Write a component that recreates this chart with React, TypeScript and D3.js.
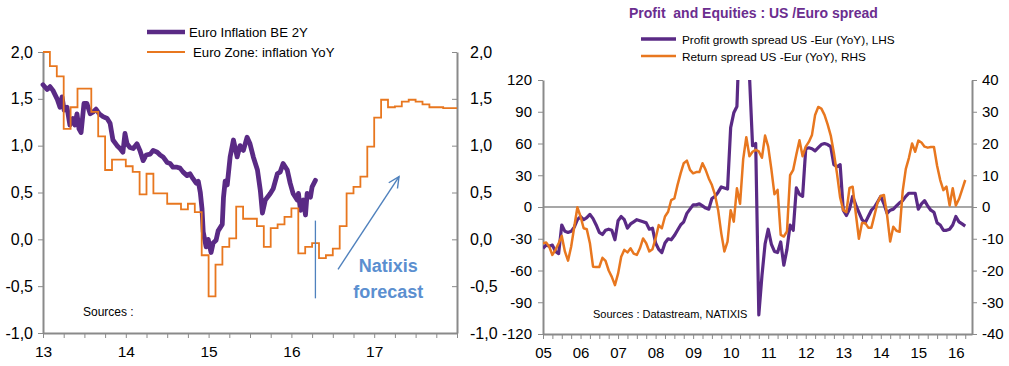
import React, { useEffect, useRef } from "react";
import * as d3 from "d3";

// ---- left panel: euro inflation ----
// breakeven 2Y, sampled roughly every 2 weeks (decimal years)
const beTimes = [
  2013.0, 2013.05, 2013.085, 2013.12, 2013.17, 2013.205, 2013.23, 2013.255, 2013.29, 2013.325,
  2013.36, 2013.385, 2013.41, 2013.435, 2013.46, 2013.495, 2013.53, 2013.57, 2013.605, 2013.64,
  2013.68, 2013.725, 2013.775, 2013.81, 2013.845, 2013.895, 2013.93, 2013.965, 2013.99, 2014.015,
  2014.05, 2014.09, 2014.135, 2014.17, 2014.21, 2014.245, 2014.295, 2014.33, 2014.38, 2014.415,
  2014.45, 2014.5, 2014.535, 2014.57, 2014.62, 2014.655, 2014.69, 2014.74, 2014.775, 2014.81,
  2014.85, 2014.875, 2014.9, 2014.92, 2014.935, 2014.97, 2014.995, 2015.03, 2015.055, 2015.09,
  2015.115, 2015.165, 2015.18, 2015.2, 2015.225, 2015.26, 2015.3, 2015.345, 2015.38, 2015.42,
  2015.465, 2015.5, 2015.54, 2015.59, 2015.625, 2015.65, 2015.685, 2015.745, 2015.78, 2015.83,
  2015.865, 2015.9, 2015.95, 2015.985, 2016.02, 2016.07, 2016.085, 2016.11, 2016.145, 2016.17,
  2016.19, 2016.23, 2016.25, 2016.29,
];
const beValues = [
  1.65, 1.6, 1.63, 1.59, 1.5, 1.41, 1.52, 1.38, 1.41, 1.22,
  1.29, 1.22, 1.34, 1.18, 1.14, 1.45, 1.45, 1.34, 1.36, 1.39,
  1.34, 1.31, 1.29, 1.24, 1.06, 1.0, 0.97, 0.93, 1.13, 1.02,
  0.98, 0.97, 1.02, 0.95, 0.84, 0.9, 0.91, 0.95, 0.93, 0.9,
  0.88, 0.82, 0.81, 0.77, 0.77, 0.76, 0.72, 0.68, 0.7, 0.65,
  0.6, 0.62, 0.5, 0.33, 0.08, -0.08, 0.0, -0.14, -0.04, -0.01,
  0.09, 0.16, 0.45, 0.62, 0.58, 0.88, 1.06, 0.88, 1.0, 0.95,
  1.09, 1.02, 0.88, 0.74, 0.52, 0.28, 0.42, 0.49, 0.54, 0.7,
  0.72, 0.81, 0.74, 0.6, 0.49, 0.42, 0.49, 0.31, 0.42, 0.26,
  0.49, 0.45, 0.56, 0.63,
];
// euro zone HICP yoy, monthly from Jan 2013 (forecast after Apr 2016)
const hicpStart = 2013;
const hicpValues = [
  2.0, 1.85, 1.74, 1.18, 1.41, 1.61, 1.61, 1.36, 1.1, 0.74, 0.85, 0.85,
  0.78, 0.72, 0.48, 0.7, 0.49, 0.49, 0.38, 0.38, 0.32, 0.38, 0.29, -0.17,
  -0.61, -0.27, -0.08, 0.01, 0.35, 0.22, 0.22, 0.14, -0.08, 0.12, 0.16, 0.24,
  0.33, -0.15, -0.08, -0.04, -0.2, -0.17, -0.1, 0.14, 0.49, 0.56, 0.67, 0.99,
  1.3, 1.49, 1.41, 1.42, 1.47, 1.49, 1.47, 1.44, 1.41, 1.41, 1.4, 1.4,
];
const leftTicks = [-1, -0.5, 0, 0.5, 1, 1.5, 2];
const leftYears = [2013, 2018];
const leftYearLabels = ["13", "14", "15", "16", "17"];

// ---- right panel: profit and equities spread ----
const spreadStart = 2005;
const profitSpread = [
  -39, -36, -37, -36, -42, -44, -17, -23, -24, -23, -19, -12,
  -9, -12, -10, -7, -11, -17, -24, -26, -22, -21, -22, -31,
  -13, -9, -12, -20, -16, -14, -12, -13, -14, -15, -21, -20,
  -34, -40, -43, -34, -30, -31, -27, -22, -17, -14, -6, -2,
  2, 2, 3, 1, -1, -2, 8, 10, 14, 19, 18, 17,
  75, 89, 95, 180, 200, 170, 125, 58, 60, -102, -65, -35,
  -21, -35, -42, -43, -33, -55, -40, -17, -22, 18, 12, 10,
  55, 56, 55, 53, 56, 59, 60, 59, 57, 40, 38, 40,
  -3, -8, -2, 10, 2, -5, -12, -15, -9, -3, 0, 5,
  10, 3, -6, -3, -2, 1, 4, 6, 10, 13, 13, 13,
  -2, 3, 6, 1, -3, -5, -15, -17, -22, -22, -21, -17,
  -9, -14, -16, -18,
];
const returnSpread = [
  -11.4, -11.2, -12.5, -15.1, -13.5, -11.4, -9.1, -14, -16.9, -12.5, -6.2, -0.1,
  -3, -6.7, -7, -11.4, -18.8, -18.9, -18.9, -16, -17, -20, -22, -24.6,
  -21, -15.7, -13.5, -14.3, -13, -14.7, -15.1, -13, -9.9, -11.4, -14, -13.3,
  -9.9, -5.7, -6.7, -3, -1.5, 2.2, 2.7, 6.9, 10.6, 13.8, 14.6, 11.7,
  10.6, 11, 11, 13.8, 11.7, 9, 6.9, 3.8, -1, -8.3, -14, -10.9,
  -1, -4.6, 5.9, 1, 15, 22, 16, 17.4, 18, 17.5, 15.5, 22.5,
  19, 12, 4, 5.4, -8.8, -9.3, -7.7, 10, 11.7, 16.5, 21, 16,
  19, 20.5, 22.7, 29, 31.5, 31, 29, 26, 22.5, 17, 10.5, 3,
  -1, -1.6, 6, 6.4, -2, -10, -5, -5, -6.5, -6.5, -2.5, 1.5,
  3.5, 3.8, -2.5, -10.9, -6.2, -7.5, -7.8, 5, 12, 15.5, 20, 17.4,
  20.9, 20.3, 19, 18.7, 18.9, 18.9, 13, 8.5, 5.3, 6.4, 0.5, 5.9,
  0.5, 2.5, 5.5, 8.5,
];
const lhsTicks = [-120, -90, -60, -30, 0, 30, 60, 90, 120];
const rhsTicks = [-40, -30, -20, -10, 0, 10, 20, 30, 40];
const rightYearLabels = ["05", "06", "07", "08", "09", "10", "11", "12", "13", "14", "15", "16"];

const FONT = "'Liberation Sans', Arial, sans-serif";
const PURPLE = "#5a2a85";
const ORANGE = "#e8771f";
const AXIS = "#8a8a8a";
const BLUE = "#4f81bd";

const comma = (d) => d.toFixed(1).replace(".", ",");
const dash = (d) => String(d);

const styleAxis = (size) => (g) => {
  g.attr("font-family", FONT).attr("font-size", size);
  g.select(".domain").attr("stroke", AXIS).attr("stroke-width", 2);
  g.selectAll(".tick line").attr("stroke", AXIS);
  g.selectAll(".tick text").attr("fill", "#000");
};

const App = () => {
  const ref = useRef(null);

  useEffect(() => {
    const svg = d3.select(ref.current);
    svg.selectAll("*").remove();

    // ================= left panel =================
    const x = d3.scaleLinear().domain(leftYears).range([43, 457]);
    const y = d3.scaleLinear().domain([-1, 2]).range([333, 52]);
    const leftYearFmt = (d) => (Number.isInteger(d) ? leftYearLabels[d - 2013] || "" : "");

    svg.append("g").attr("transform", "translate(43,0)")
      .call(d3.axisLeft(y).tickValues(leftTicks).tickSize(5).tickSizeOuter(0).tickPadding(5).tickFormat(comma))
      .call(styleAxis(16));
    svg.append("g").attr("transform", "translate(457,0)")
      .call(d3.axisRight(y).tickValues(leftTicks).tickSizeInner(-5).tickSizeOuter(0).tickPadding(13).tickFormat(comma))
      .call(styleAxis(16));
    svg.append("g").attr("transform", "translate(0,333)")
      .call(d3.axisBottom(x).tickValues(d3.range(2013, 2018.001, 0.25)).tickSize(5).tickSizeOuter(0).tickPadding(8).tickFormat(leftYearFmt))
      .call(styleAxis(15.5));

    const beLine = d3.line()
      .x((d, i) => x(beTimes[i]))
      .y((d) => y(d));
    svg.append("path").datum(beValues)
      .attr("d", beLine)
      .attr("fill", "none").attr("stroke", PURPLE).attr("stroke-width", 4.8)
      .attr("stroke-linejoin", "round").attr("stroke-linecap", "round");

    const hicpLine = d3.line()
      .curve(d3.curveStepAfter)
      .x((d, i) => x(hicpStart + i / 12))
      .y((d) => y(d));
    svg.append("path").datum(hicpValues.concat([hicpValues[hicpValues.length - 1]]))
      .attr("d", hicpLine)
      .attr("fill", "none").attr("stroke", ORANGE).attr("stroke-width", 1.8);

    // legend
    const lg = svg.append("g").attr("font-family", FONT).attr("font-size", 13.2);
    lg.append("line").attr("x1", 147).attr("x2", 185).attr("y1", 32).attr("y2", 32)
      .attr("stroke", PURPLE).attr("stroke-width", 4.5);
    lg.append("text").attr("x", 189).attr("y", 37).text("Euro Inflation BE 2Y");
    lg.append("line").attr("x1", 147).attr("x2", 185).attr("y1", 52).attr("y2", 52)
      .attr("stroke", ORANGE).attr("stroke-width", 1.8);
    lg.append("text").attr("x", 193).attr("y", 57).text("Euro Zone: inflation YoY");

    svg.append("text").attr("x", 83).attr("y", 316)
      .attr("font-family", FONT).attr("font-size", 12).text("Sources :");

    // forecast annotation
    svg.append("line")
      .attr("x1", x(2016.29)).attr("x2", x(2016.29))
      .attr("y1", y(0.2)).attr("y2", y(-0.63))
      .attr("stroke", BLUE).attr("stroke-width", 1.3);
    const ax0 = x(2016.563), ay0 = y(-0.32), ax1 = x(2017.3), ay1 = y(0.67);
    const ang = Math.atan2(ay1 - ay0, ax1 - ax0);
    const head = 12, spread = 0.45;
    svg.append("line").attr("x1", ax0).attr("y1", ay0).attr("x2", ax1).attr("y2", ay1)
      .attr("stroke", BLUE).attr("stroke-width", 1.4);
    svg.append("path")
      .attr("d", `M${ax1 - head * Math.cos(ang - spread)},${ay1 - head * Math.sin(ang - spread)}L${ax1},${ay1}L${ax1 - head * Math.cos(ang + spread)},${ay1 - head * Math.sin(ang + spread)}`)
      .attr("fill", "none").attr("stroke", BLUE).attr("stroke-width", 1.4);
    const nt = svg.append("g").attr("font-family", FONT).attr("font-size", 18)
      .attr("font-weight", "bold").attr("fill", "#5b8fd0").attr("text-anchor", "middle");
    nt.append("text").attr("x", x(2017.17)).attr("y", y(-0.35)).text("Natixis");
    nt.append("text").attr("x", x(2017.17)).attr("y", y(-0.63)).text("forecast");

    // ================= right panel =================
    const x2 = d3.scaleLinear().domain([2005, 2016.43]).range([543, 972]);
    const yL = d3.scaleLinear().domain([-120, 120]).range([334, 80]);
    const yR = d3.scaleLinear().domain([-40, 40]).range([334, 80]);
    const rightYearFmt = (d) => (Number.isInteger(d) ? rightYearLabels[d - 2005] || "" : "");

    svg.append("defs").append("clipPath").attr("id", "plot2")
      .append("rect").attr("x", 543).attr("y", 80).attr("width", 429).attr("height", 254);

    svg.append("line").attr("x1", 543).attr("x2", 972).attr("y1", yL(0)).attr("y2", yL(0))
      .attr("stroke", AXIS).attr("stroke-width", 1.6);

    svg.append("g").attr("transform", "translate(543,0)")
      .call(d3.axisLeft(yL).tickValues(lhsTicks).tickSize(5).tickSizeOuter(0).tickPadding(6).tickFormat(dash))
      .call(styleAxis(15));
    svg.append("g").attr("transform", "translate(972,0)")
      .call(d3.axisRight(yR).tickValues(rhsTicks).tickSize(5).tickSizeOuter(0).tickPadding(5).tickFormat(dash))
      .call(styleAxis(15));
    svg.append("g").attr("transform", "translate(0,334)")
      .call(d3.axisBottom(x2).tickValues(d3.range(2005, 2016.3, 0.25)).tickSize(5).tickSizeOuter(0).tickPadding(8).tickFormat(rightYearFmt))
      .call(styleAxis(15));

    const plot = svg.append("g").attr("clip-path", "url(#plot2)");
    plot.append("path").datum(profitSpread)
      .attr("d", d3.line().x((d, i) => x2(spreadStart + i / 12)).y((d) => yL(d)))
      .attr("fill", "none").attr("stroke", PURPLE).attr("stroke-width", 3.2)
      .attr("stroke-linejoin", "round");
    plot.append("path").datum(returnSpread)
      .attr("d", d3.line().x((d, i) => x2(spreadStart + i / 12)).y((d) => yR(d)))
      .attr("fill", "none").attr("stroke", ORANGE).attr("stroke-width", 2.5)
      .attr("stroke-linejoin", "round");

    svg.append("text").attr("x", 629).attr("y", 18)
      .attr("font-family", FONT).attr("font-size", 14).attr("font-weight", "bold")
      .attr("fill", "#6b2d8f").style("white-space", "pre")
      .text("Profit  and Equities : US /Euro spread");

    const rg = svg.append("g").attr("font-family", FONT).attr("font-size", 11.8);
    rg.append("line").attr("x1", 641).attr("x2", 676).attr("y1", 39).attr("y2", 39)
      .attr("stroke", PURPLE).attr("stroke-width", 3.5);
    rg.append("text").attr("x", 682).attr("y", 43.5).text("Profit growth spread US -Eur (YoY), LHS");
    rg.append("line").attr("x1", 641).attr("x2", 676).attr("y1", 56).attr("y2", 56)
      .attr("stroke", ORANGE).attr("stroke-width", 2.5);
    rg.append("text").attr("x", 682).attr("y", 60.5).text("Return spread US -Eur (YoY), RHS");

    svg.append("text").attr("x", 593).attr("y", 318)
      .attr("font-family", FONT).attr("font-size", 11).text("Sources : Datastream, NATIXIS");
  }, []);

  return (
    <svg
      ref={ref}
      width={1009}
      height={366}
      style={{ position: "absolute", left: 0, top: 0, background: "#fff" }}
    />
  );
};

export default App;
